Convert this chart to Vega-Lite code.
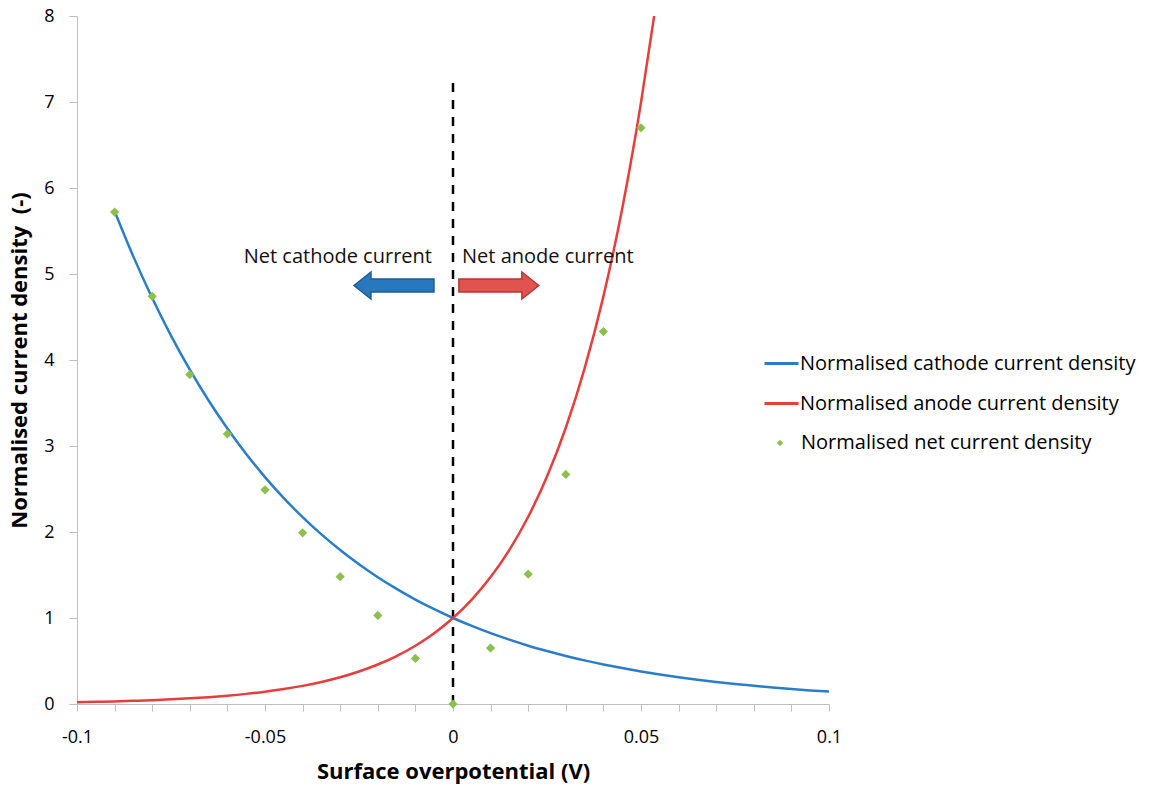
{
  "$schema": "https://vega.github.io/schema/vega-lite/v6.json",
  "autosize": {"type": "none"},
  "padding": {"left": 77, "top": 16, "right": 325, "bottom": 85},
  "width": 752,
  "height": 688,
  "config": {
    "view": {"stroke": null},
    "font": "Open Sans",
    "axis": {"grid": false, "domainColor": "#bfbfbf", "tickColor": "#bfbfbf", "labelColor": "#000", "titleColor": "#000", "labelFont": "Open Sans", "titleFont": "Open Sans", "labelFontSize": 18, "titleFontSize": 22, "titleFontWeight": "bold"}
  },
  "datasets": {
    "curves": [
      {"series": "Normalised cathode current density", "x": -0.09, "y": 5.731},
      {"series": "Normalised cathode current density", "x": -0.085, "y": 5.202},
      {"series": "Normalised cathode current density", "x": -0.08, "y": 4.721},
      {"series": "Normalised cathode current density", "x": -0.075, "y": 4.284},
      {"series": "Normalised cathode current density", "x": -0.07, "y": 3.888},
      {"series": "Normalised cathode current density", "x": -0.065, "y": 3.529},
      {"series": "Normalised cathode current density", "x": -0.06, "y": 3.203},
      {"series": "Normalised cathode current density", "x": -0.055, "y": 2.907},
      {"series": "Normalised cathode current density", "x": -0.05, "y": 2.638},
      {"series": "Normalised cathode current density", "x": -0.045, "y": 2.394},
      {"series": "Normalised cathode current density", "x": -0.04, "y": 2.173},
      {"series": "Normalised cathode current density", "x": -0.035, "y": 1.972},
      {"series": "Normalised cathode current density", "x": -0.03, "y": 1.79},
      {"series": "Normalised cathode current density", "x": -0.025, "y": 1.624},
      {"series": "Normalised cathode current density", "x": -0.02, "y": 1.474},
      {"series": "Normalised cathode current density", "x": -0.015, "y": 1.338},
      {"series": "Normalised cathode current density", "x": -0.01, "y": 1.214},
      {"series": "Normalised cathode current density", "x": -0.005, "y": 1.102},
      {"series": "Normalised cathode current density", "x": 0, "y": 1},
      {"series": "Normalised cathode current density", "x": 0.005, "y": 0.908},
      {"series": "Normalised cathode current density", "x": 0.01, "y": 0.824},
      {"series": "Normalised cathode current density", "x": 0.015, "y": 0.748},
      {"series": "Normalised cathode current density", "x": 0.02, "y": 0.678},
      {"series": "Normalised cathode current density", "x": 0.025, "y": 0.616},
      {"series": "Normalised cathode current density", "x": 0.03, "y": 0.559},
      {"series": "Normalised cathode current density", "x": 0.035, "y": 0.507},
      {"series": "Normalised cathode current density", "x": 0.04, "y": 0.46},
      {"series": "Normalised cathode current density", "x": 0.045, "y": 0.418},
      {"series": "Normalised cathode current density", "x": 0.05, "y": 0.379},
      {"series": "Normalised cathode current density", "x": 0.055, "y": 0.344},
      {"series": "Normalised cathode current density", "x": 0.06, "y": 0.312},
      {"series": "Normalised cathode current density", "x": 0.065, "y": 0.283},
      {"series": "Normalised cathode current density", "x": 0.07, "y": 0.257},
      {"series": "Normalised cathode current density", "x": 0.075, "y": 0.233},
      {"series": "Normalised cathode current density", "x": 0.08, "y": 0.212},
      {"series": "Normalised cathode current density", "x": 0.085, "y": 0.192},
      {"series": "Normalised cathode current density", "x": 0.09, "y": 0.174},
      {"series": "Normalised cathode current density", "x": 0.095, "y": 0.158},
      {"series": "Normalised cathode current density", "x": 0.1, "y": 0.144},
      {"series": "Normalised anode current density", "x": -0.1, "y": 0.0204},
      {"series": "Normalised anode current density", "x": -0.095, "y": 0.0248},
      {"series": "Normalised anode current density", "x": -0.09, "y": 0.0302},
      {"series": "Normalised anode current density", "x": -0.085, "y": 0.0367},
      {"series": "Normalised anode current density", "x": -0.08, "y": 0.0445},
      {"series": "Normalised anode current density", "x": -0.075, "y": 0.0541},
      {"series": "Normalised anode current density", "x": -0.07, "y": 0.0657},
      {"series": "Normalised anode current density", "x": -0.065, "y": 0.0798},
      {"series": "Normalised anode current density", "x": -0.06, "y": 0.0969},
      {"series": "Normalised anode current density", "x": -0.055, "y": 0.1177},
      {"series": "Normalised anode current density", "x": -0.05, "y": 0.143},
      {"series": "Normalised anode current density", "x": -0.045, "y": 0.1737},
      {"series": "Normalised anode current density", "x": -0.04, "y": 0.211},
      {"series": "Normalised anode current density", "x": -0.035, "y": 0.2563},
      {"series": "Normalised anode current density", "x": -0.03, "y": 0.3113},
      {"series": "Normalised anode current density", "x": -0.025, "y": 0.3781},
      {"series": "Normalised anode current density", "x": -0.02, "y": 0.4593},
      {"series": "Normalised anode current density", "x": -0.015, "y": 0.5579},
      {"series": "Normalised anode current density", "x": -0.01, "y": 0.6778},
      {"series": "Normalised anode current density", "x": -0.005, "y": 0.8232},
      {"series": "Normalised anode current density", "x": 0, "y": 1},
      {"series": "Normalised anode current density", "x": 0.005, "y": 1.2147},
      {"series": "Normalised anode current density", "x": 0.01, "y": 1.4755},
      {"series": "Normalised anode current density", "x": 0.015, "y": 1.7923},
      {"series": "Normalised anode current density", "x": 0.02, "y": 2.1771},
      {"series": "Normalised anode current density", "x": 0.025, "y": 2.6446},
      {"series": "Normalised anode current density", "x": 0.03, "y": 3.2124},
      {"series": "Normalised anode current density", "x": 0.035, "y": 3.902},
      {"series": "Normalised anode current density", "x": 0.04, "y": 4.74},
      {"series": "Normalised anode current density", "x": 0.045, "y": 5.758},
      {"series": "Normalised anode current density", "x": 0.05, "y": 6.994},
      {"series": "Normalised anode current density", "x": 0.0535, "y": 8.0}
    ],
    "net": [
      {"series": "Normalised net current density", "x": -0.09, "y": 5.72},
      {"series": "Normalised net current density", "x": -0.08, "y": 4.74},
      {"series": "Normalised net current density", "x": -0.07, "y": 3.83},
      {"series": "Normalised net current density", "x": -0.06, "y": 3.14},
      {"series": "Normalised net current density", "x": -0.05, "y": 2.49},
      {"series": "Normalised net current density", "x": -0.04, "y": 1.99},
      {"series": "Normalised net current density", "x": -0.03, "y": 1.48},
      {"series": "Normalised net current density", "x": -0.02, "y": 1.03},
      {"series": "Normalised net current density", "x": -0.01, "y": 0.53},
      {"series": "Normalised net current density", "x": 0, "y": 0},
      {"series": "Normalised net current density", "x": 0.01, "y": 0.65},
      {"series": "Normalised net current density", "x": 0.02, "y": 1.51},
      {"series": "Normalised net current density", "x": 0.03, "y": 2.67},
      {"series": "Normalised net current density", "x": 0.04, "y": 4.33},
      {"series": "Normalised net current density", "x": 0.05, "y": 6.7}
    ],
    "notes": [
      {"label": "Net cathode current", "x": -0.0056, "y": 5.2, "side": "left"},
      {"label": "Net anode current", "x": 0.0024, "y": 5.2, "side": "right"}
    ],
    "arrows": [
      {"dir": "left", "x": -0.0157, "y": 4.866},
      {"dir": "right", "x": 0.0122, "y": 4.866}
    ]
  },
  "encoding": {
    "x": {"field": "x", "type": "quantitative", "scale": {"domain": [-0.1, 0.1], "nice": false, "zero": false},
      "axis": {"title": "Surface overpotential (V)", "values": [-0.1,-0.09,-0.08,-0.07,-0.06,-0.05,-0.04,-0.03,-0.02,-0.01,0,0.01,0.02,0.03,0.04,0.05,0.06,0.07,0.08,0.09,0.1],
        "labelExpr": "abs(datum.value*20 - round(datum.value*20)) > 0.001 ? '' : datum.value < -0.075 ? '-0.1' : datum.value < -0.025 ? '-0.05' : datum.value < 0.025 ? '0' : datum.value < 0.075 ? '0.05' : '0.1'",
        "labelOverlap": false, "labelFlush": false, "labelBound": false, "tickSize": 7, "labelPadding": 17, "titlePadding": 15}},
    "y": {"field": "y", "type": "quantitative", "scale": {"domain": [0, 8], "nice": false, "zero": true},
      "axis": {"title": "Normalised current density\u00a0 (-)", "values": [0,1,2,3,4,5,6,7,8], "format": "d", "labelOverlap": false, "tickSize": 8, "labelPadding": 15, "titlePadding": 12}}
  },
  "layer": [
    {
      "data": {"values": [{"x": 0, "y": 0, "y2": 7.25}]},
      "mark": {"type": "rule", "color": "#000", "strokeWidth": 2.5, "strokeDash": [9, 8]},
      "encoding": {"y2": {"field": "y2"}}
    },
    {
      "data": {"name": "curves"},
      "mark": {"type": "line", "strokeWidth": 2.5, "interpolate": "monotone", "clip": true},
      "encoding": {
        "color": {"field": "series", "type": "nominal",
          "scale": {"domain": ["Normalised cathode current density", "Normalised anode current density"], "range": ["#2A7DC9", "#E53E3C"]},
          "legend": {"orient": "none", "legendX": 686, "legendY": 329, "title": null, "symbolType": "stroke", "symbolSize": 1156, "symbolStrokeWidth": 3, "labelFontSize": 20, "labelFont": "Open Sans", "labelColor": "#000", "rowPadding": 11, "labelOffset": 0, "padding": 0, "labelLimit": 600}}
      }
    },
    {
      "data": {"name": "net"},
      "mark": {"type": "point", "filled": true, "color": "#8CC04B", "opacity": 1, "size": 85},
      "encoding": {
        "shape": {"field": "series", "type": "nominal", "scale": {"range": ["diamond"]},
          "legend": {"orient": "none", "legendX": 693, "legendY": 417, "title": null, "symbolSize": 40, "symbolFillColor": "#8CC04B", "symbolStrokeColor": "#8CC04B", "labelFontSize": 20, "labelFont": "Open Sans", "labelColor": "#000", "labelOffset": 11, "padding": 0, "labelLimit": 600}}
      }
    },
    {
      "data": {"name": "notes"},
      "transform": [{"filter": "datum.side == 'left'"}],
      "mark": {"type": "text", "align": "right", "baseline": "middle", "fontSize": 20, "font": "Open Sans", "color": "#111"},
      "encoding": {"text": {"field": "label"}}
    },
    {
      "data": {"name": "notes"},
      "transform": [{"filter": "datum.side == 'right'"}],
      "mark": {"type": "text", "align": "left", "baseline": "middle", "fontSize": 20, "font": "Open Sans", "color": "#111"},
      "encoding": {"text": {"field": "label"}}
    },
    {
      "data": {"name": "arrows"},
      "transform": [{"filter": "datum.dir == 'left'"}],
      "mark": {"type": "point", "filled": true, "size": 6400, "shape": "M-1,0 L-0.575,-0.3375 L-0.575,-0.1625 L1,-0.1625 L1,0.1625 L-0.575,0.1625 L-0.575,0.3375 Z", "fill": "#2878BE", "stroke": "#1D5C92", "strokeWidth": 1.5, "opacity": 1}
    },
    {
      "data": {"name": "arrows"},
      "transform": [{"filter": "datum.dir == 'right'"}],
      "mark": {"type": "point", "filled": true, "size": 6400, "shape": "M1,0 L0.575,-0.3375 L0.575,-0.1625 L-1,-0.1625 L-1,0.1625 L0.575,0.1625 L0.575,0.3375 Z", "fill": "#E0534F", "stroke": "#B03A36", "strokeWidth": 1.5, "opacity": 1}
    }
  ]
}
